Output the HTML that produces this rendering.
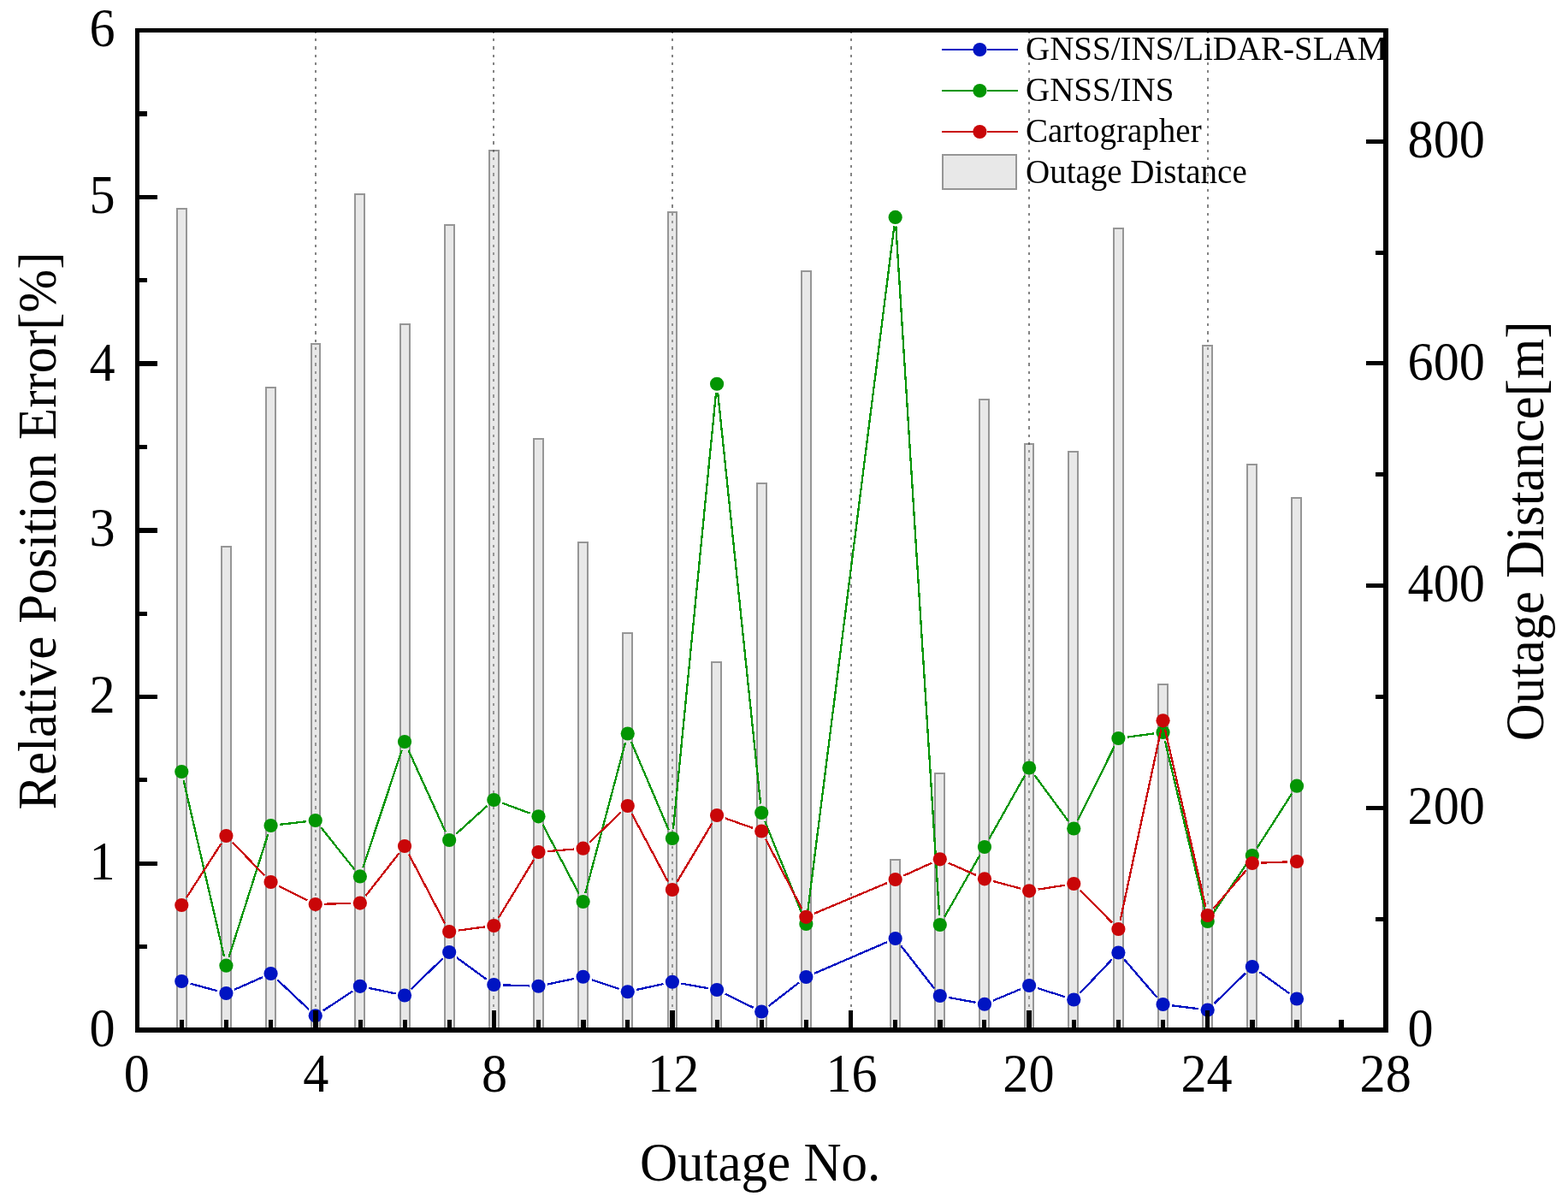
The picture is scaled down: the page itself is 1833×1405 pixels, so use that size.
<!DOCTYPE html>
<html lang="en"><head><meta charset="utf-8"><title>Relative Position Error vs Outage No.</title>
<style>html,body{margin:0;padding:0;background:#fff}body{width:1833px;height:1405px;overflow:hidden}svg{display:block}text{font-family:"Liberation Serif","DejaVu Serif",serif;fill:#000}</style>
</head><body>
<svg width="1833" height="1405" viewBox="0 0 1833 1405">
<rect x="0" y="0" width="1833" height="1405" fill="#fff"/>
<g shape-rendering="crispEdges" stroke="#848484" stroke-width="2" stroke-dasharray="3.25 6" fill="none">
<line x1="369" y1="35.75" x2="369" y2="1201"/>
<line x1="577" y1="35.75" x2="577" y2="1201"/>
<line x1="786" y1="35.75" x2="786" y2="1201"/>
<line x1="995" y1="35.75" x2="995" y2="1201"/>
<line x1="1203" y1="35.75" x2="1203" y2="1201"/>
<line x1="1412" y1="35.75" x2="1412" y2="1201"/>
</g>
<path shape-rendering="crispEdges" fill="#bcbcbc" fill-opacity="0.343" d="M208 245H217V1204H208ZM260 640H269V1204H260ZM312 454H321V1204H312ZM365 403H373V1204H365ZM416 228H425V1204H416ZM469 380H478V1204H469ZM521 264H530V1204H521ZM573 177H582V1204H573ZM625 514H634V1204H625ZM677 635H686V1204H677ZM729 741H738V1204H729ZM782 249H790V1204H782ZM833 775H842V1204H833ZM886 566H895V1204H886ZM938 318H947V1204H938ZM1042 1006H1051V1204H1042ZM1094 905H1103V1204H1094ZM1146 468H1155V1204H1146ZM1199 520H1207V1204H1199ZM1250 529H1259V1204H1250ZM1303 268H1312V1204H1303ZM1355 801H1364V1204H1355ZM1407 405H1416V1204H1407ZM1459 544H1468V1204H1459ZM1511 583H1520V1204H1511Z"/>
<path shape-rendering="crispEdges" fill="#4e4e4e" fill-opacity="0.594" fill-rule="evenodd" d="M206 243H219V1204H206ZM208 245H217V1204H208ZM258 638H271V1204H258ZM260 640H269V1204H260ZM310 452H323V1204H310ZM312 454H321V1204H312ZM363 401H375V1204H363ZM365 403H373V1204H365ZM414 226H427V1204H414ZM416 228H425V1204H416ZM467 378H480V1204H467ZM469 380H478V1204H469ZM519 262H532V1204H519ZM521 264H530V1204H521ZM571 175H584V1204H571ZM573 177H582V1204H573ZM623 512H636V1204H623ZM625 514H634V1204H625ZM675 633H688V1204H675ZM677 635H686V1204H677ZM727 739H740V1204H727ZM729 741H738V1204H729ZM780 247H792V1204H780ZM782 249H790V1204H782ZM831 773H844V1204H831ZM833 775H842V1204H833ZM884 564H897V1204H884ZM886 566H895V1204H886ZM936 316H949V1204H936ZM938 318H947V1204H938ZM1040 1004H1053V1204H1040ZM1042 1006H1051V1204H1042ZM1092 903H1105V1204H1092ZM1094 905H1103V1204H1094ZM1144 466H1157V1204H1144ZM1146 468H1155V1204H1146ZM1197 518H1209V1204H1197ZM1199 520H1207V1204H1199ZM1248 527H1261V1204H1248ZM1250 529H1259V1204H1250ZM1301 266H1314V1204H1301ZM1303 268H1312V1204H1303ZM1353 799H1366V1204H1353ZM1355 801H1364V1204H1355ZM1405 403H1418V1204H1405ZM1407 405H1416V1204H1407ZM1457 542H1470V1204H1457ZM1459 544H1468V1204H1459ZM1509 581H1522V1204H1509ZM1511 583H1520V1204H1511Z"/>
<g>
<path d="M1101 58 H1140 M1154 58 H1190" stroke="#0014c2" stroke-width="2" fill="none" shape-rendering="crispEdges"/>
<circle cx="1145.4" cy="58" r="8.1" fill="#0014c2"/>
<path d="M1101 106 H1140 M1154 106 H1190" stroke="#039503" stroke-width="2" fill="none" shape-rendering="crispEdges"/>
<circle cx="1145.4" cy="106" r="8.1" fill="#039503"/>
<path d="M1101 154 H1140 M1154 154 H1190" stroke="#c90608" stroke-width="2" fill="none" shape-rendering="crispEdges"/>
<circle cx="1145.4" cy="154" r="8.1" fill="#c90608"/>
<rect x="1102" y="181" width="86" height="40" fill="#e8e8e8" stroke="#969696" stroke-width="2" shape-rendering="crispEdges"/>
<clipPath id="lc"><rect x="1090" y="38" width="527" height="200"/></clipPath>
<g clip-path="url(#lc)">
<text transform="translate(1199 70.2) scale(1 1.05)" font-size="39">GNSS/INS/LiDAR-SLAM</text>
<text transform="translate(1199 118.2) scale(1 1.05)" font-size="39">GNSS/INS</text>
<text transform="translate(1199 166.2) scale(1 1.05)" font-size="39">Cartographer</text>
<text transform="translate(1199 213.7) scale(1 1.05)" font-size="39">Outage Distance</text>
</g></g>
<path d="M222.51 1149.75L254.19 1158.25M274.12 1156.72L306.87 1142.28M324.28 1145.28L361.02 1180.02M377.57 1181.46L412.03 1158.69M431.26 1154.97L462.63 1161.38M480.63 1156.13L517.55 1120.37M533.74 1119.24L568.75 1144.76M587.91 1151.36L618.87 1152.39M639.84 1150.56L671.24 1143.94M691.67 1145.12L723.72 1155.88M744.12 1156.97L775.56 1150.03M796.35 1149.6L827.63 1155.15M847.59 1161.66L880.69 1177.84M898.58 1176L933.99 1148.5M952.09 1137.8L1036.93 1101.2M1053.17 1105.36L1092.3 1155.64M1109.23 1165.95L1140.54 1171.8M1160.74 1169.67L1193.32 1156.08M1213.21 1155.2L1245.15 1165.3M1262.55 1160.81L1300.11 1121.19M1314.32 1121.53L1352.63 1165.97M1370.07 1175.31L1401.18 1179.19M1419.32 1173.13L1456.24 1137.37M1472.46 1136.19L1507.39 1161.31" stroke="#0014c2" stroke-width="2.3" fill="none" shape-rendering="crispEdges"/>
<g fill="#0014c2">
<circle cx="212.28" cy="1147" r="8.1"/>
<circle cx="264.42" cy="1161" r="8.1"/>
<circle cx="316.57" cy="1138" r="8.1"/>
<circle cx="368.72" cy="1187.3" r="8.1"/>
<circle cx="420.87" cy="1152.85" r="8.1"/>
<circle cx="473.02" cy="1163.5" r="8.1"/>
<circle cx="525.17" cy="1113" r="8.1"/>
<circle cx="577.32" cy="1151" r="8.1"/>
<circle cx="629.47" cy="1152.75" r="8.1"/>
<circle cx="681.62" cy="1141.75" r="8.1"/>
<circle cx="733.76" cy="1159.25" r="8.1"/>
<circle cx="785.91" cy="1147.75" r="8.1"/>
<circle cx="838.06" cy="1157" r="8.1"/>
<circle cx="890.21" cy="1182.5" r="8.1"/>
<circle cx="942.36" cy="1142" r="8.1"/>
<circle cx="1046.66" cy="1097" r="8.1"/>
<circle cx="1098.81" cy="1164" r="8.1"/>
<circle cx="1150.96" cy="1173.75" r="8.1"/>
<circle cx="1203.11" cy="1152" r="8.1"/>
<circle cx="1255.26" cy="1168.5" r="8.1"/>
<circle cx="1307.4" cy="1113.5" r="8.1"/>
<circle cx="1359.55" cy="1174" r="8.1"/>
<circle cx="1411.7" cy="1180.5" r="8.1"/>
<circle cx="1463.85" cy="1130" r="8.1"/>
<circle cx="1516" cy="1167.5" r="8.1"/>
</g>
<path d="M214.65 912.33L262.05 1118.37M267.64 1118.6L313.36 975.1M327.1 963.79L358.19 960.21M375.33 967.29L414.26 1016.11M424.2 1014.34L469.69 877.06M477.4 876.65L520.79 972.35M533.04 974.9L569.44 942.1M587.26 938.68L619.53 950.62M634.38 963.69L676.7 1044.61M684.34 1043.75L731.05 867.75M737.92 867.25L781.76 970.25M786.95 969.45L837.03 459.3M839.16 459.29L889.12 939.46M894.16 959.84L938.41 1070.16M943.69 1069.48L1045.33 264.42M1047.33 264.48L1098.14 1070.42M1104.08 1071.8L1145.69 999.2M1156.16 980.77L1197.9 906.73M1209.38 906.04L1248.98 959.96M1259.95 959L1302.71 872.5M1317.91 861.59L1349.05 857.41M1361.99 866.32L1409.27 1066.68M1417.65 1068.22L1457.91 1008.78M1469.57 991.08L1510.28 927.62" stroke="#039503" stroke-width="2.3" fill="none" shape-rendering="crispEdges"/>
<g fill="#039503">
<circle cx="212.28" cy="902" r="8.1"/>
<circle cx="264.42" cy="1128.7" r="8.1"/>
<circle cx="316.57" cy="965" r="8.1"/>
<circle cx="368.72" cy="959" r="8.1"/>
<circle cx="420.87" cy="1024.4" r="8.1"/>
<circle cx="473.02" cy="867" r="8.1"/>
<circle cx="525.17" cy="982" r="8.1"/>
<circle cx="577.32" cy="935" r="8.1"/>
<circle cx="629.47" cy="954.3" r="8.1"/>
<circle cx="681.62" cy="1054" r="8.1"/>
<circle cx="733.76" cy="857.5" r="8.1"/>
<circle cx="785.91" cy="980" r="8.1"/>
<circle cx="838.06" cy="448.75" r="8.1"/>
<circle cx="890.21" cy="950" r="8.1"/>
<circle cx="942.36" cy="1080" r="8.1"/>
<circle cx="1046.66" cy="253.9" r="8.1"/>
<circle cx="1098.81" cy="1081" r="8.1"/>
<circle cx="1150.96" cy="990" r="8.1"/>
<circle cx="1203.11" cy="897.5" r="8.1"/>
<circle cx="1255.26" cy="968.5" r="8.1"/>
<circle cx="1307.4" cy="863" r="8.1"/>
<circle cx="1359.55" cy="856" r="8.1"/>
<circle cx="1411.7" cy="1077" r="8.1"/>
<circle cx="1463.85" cy="1000" r="8.1"/>
<circle cx="1516" cy="918.7" r="8.1"/>
</g>
<path d="M218.01 1049.09L258.69 985.91M271.79 984.62L309.21 1023.38M326.06 1035.73L359.24 1052.27M379.32 1056.72L410.27 1055.88M427.41 1047.25L466.49 997.35M477.92 998.4L520.27 1079.6M535.67 1087.59L566.81 1083.41M582.81 1072.94L623.97 1005.06M640.03 995.13L671.05 992.57M689.29 984.39L726.09 949.31M738.74 951.36L780.93 1030.64M791.36 1030.91L832.61 962.09M848.05 956.54L880.22 967.96M895.1 980.9L937.47 1062.4M952.13 1067.7L1036.89 1032.1M1056.31 1023.61L1089.16 1008.69M1108.51 1008.58L1141.26 1023.02M1161.19 1030.05L1192.87 1038.55M1213.57 1039.63L1244.79 1034.67M1262.69 1040.56L1299.97 1078.44M1309.62 1075.63L1357.33 852.67M1361.92 852.63L1409.34 1059.67M1418.59 1061.94L1456.96 1017.06M1474.44 1008.59L1505.41 1007.41" stroke="#c90608" stroke-width="2.3" fill="none" shape-rendering="crispEdges"/>
<g fill="#c90608">
<circle cx="212.28" cy="1058" r="8.1"/>
<circle cx="264.42" cy="977" r="8.1"/>
<circle cx="316.57" cy="1031" r="8.1"/>
<circle cx="368.72" cy="1057" r="8.1"/>
<circle cx="420.87" cy="1055.6" r="8.1"/>
<circle cx="473.02" cy="989" r="8.1"/>
<circle cx="525.17" cy="1089" r="8.1"/>
<circle cx="577.32" cy="1082" r="8.1"/>
<circle cx="629.47" cy="996" r="8.1"/>
<circle cx="681.62" cy="991.7" r="8.1"/>
<circle cx="733.76" cy="942" r="8.1"/>
<circle cx="785.91" cy="1040" r="8.1"/>
<circle cx="838.06" cy="953" r="8.1"/>
<circle cx="890.21" cy="971.5" r="8.1"/>
<circle cx="942.36" cy="1071.8" r="8.1"/>
<circle cx="1046.66" cy="1028" r="8.1"/>
<circle cx="1098.81" cy="1004.3" r="8.1"/>
<circle cx="1150.96" cy="1027.3" r="8.1"/>
<circle cx="1203.11" cy="1041.3" r="8.1"/>
<circle cx="1255.26" cy="1033" r="8.1"/>
<circle cx="1307.4" cy="1086" r="8.1"/>
<circle cx="1359.55" cy="842.3" r="8.1"/>
<circle cx="1411.7" cy="1070" r="8.1"/>
<circle cx="1463.85" cy="1009" r="8.1"/>
<circle cx="1516" cy="1007" r="8.1"/>
</g>
<g shape-rendering="crispEdges" fill="#000">
<rect x="158" y="33" width="1465" height="5"/>
<rect x="158" y="1201" width="1465" height="6"/>
<rect x="158" y="33" width="5" height="1174"/>
<rect x="1617" y="33" width="6" height="1174"/>
<rect x="210" y="1192" width="5" height="10"/>
<rect x="262" y="1192" width="5" height="10"/>
<rect x="314" y="1192" width="5" height="10"/>
<rect x="366" y="1181" width="6" height="21"/>
<rect x="419" y="1192" width="5" height="10"/>
<rect x="471" y="1192" width="5" height="10"/>
<rect x="523" y="1192" width="5" height="10"/>
<rect x="575" y="1181" width="5" height="21"/>
<rect x="627" y="1192" width="5" height="10"/>
<rect x="679" y="1192" width="6" height="10"/>
<rect x="731" y="1192" width="5" height="10"/>
<rect x="783" y="1181" width="6" height="21"/>
<rect x="836" y="1192" width="5" height="10"/>
<rect x="888" y="1192" width="5" height="10"/>
<rect x="940" y="1192" width="5" height="10"/>
<rect x="992" y="1181" width="5" height="21"/>
<rect x="1044" y="1192" width="5" height="10"/>
<rect x="1096" y="1192" width="6" height="10"/>
<rect x="1148" y="1192" width="5" height="10"/>
<rect x="1200" y="1181" width="6" height="21"/>
<rect x="1253" y="1192" width="5" height="10"/>
<rect x="1305" y="1192" width="5" height="10"/>
<rect x="1357" y="1192" width="5" height="10"/>
<rect x="1409" y="1181" width="5" height="21"/>
<rect x="1461" y="1192" width="6" height="10"/>
<rect x="1513" y="1192" width="6" height="10"/>
<rect x="1565" y="1192" width="6" height="10"/>
<rect x="162" y="1104" width="10" height="5"/>
<rect x="162" y="1007" width="22" height="5"/>
<rect x="162" y="909" width="10" height="5"/>
<rect x="162" y="812" width="22" height="5"/>
<rect x="162" y="715" width="10" height="5"/>
<rect x="162" y="617" width="22" height="6"/>
<rect x="162" y="520" width="10" height="5"/>
<rect x="162" y="422" width="22" height="6"/>
<rect x="162" y="325" width="10" height="5"/>
<rect x="162" y="228" width="22" height="5"/>
<rect x="162" y="130" width="10" height="6"/>
<rect x="1608" y="1072" width="10" height="5"/>
<rect x="1597" y="942" width="21" height="5"/>
<rect x="1608" y="812" width="10" height="5"/>
<rect x="1597" y="682" width="21" height="5"/>
<rect x="1608" y="552" width="10" height="5"/>
<rect x="1597" y="422" width="21" height="5"/>
<rect x="1608" y="293" width="10" height="5"/>
<rect x="1597" y="163" width="21" height="5"/>
</g>
<g>
<text transform="translate(159.7 1275.7) scale(1 1.045)" font-size="60.2" text-anchor="middle">0</text>
<text transform="translate(369.2 1275.7) scale(1 1.045)" font-size="60.2" text-anchor="middle">4</text>
<text transform="translate(578 1275.7) scale(1 1.045)" font-size="60.2" text-anchor="middle">8</text>
<text transform="translate(787.2 1275.7) scale(1 1.045)" font-size="60.2" text-anchor="middle">12</text>
<text transform="translate(995.5 1275.7) scale(1 1.045)" font-size="60.2" text-anchor="middle">16</text>
<text transform="translate(1202.4 1275.7) scale(1 1.045)" font-size="60.2" text-anchor="middle">20</text>
<text transform="translate(1410.5 1275.7) scale(1 1.045)" font-size="60.2" text-anchor="middle">24</text>
<text transform="translate(1619.7 1275.7) scale(1 1.045)" font-size="60.2" text-anchor="middle">28</text>
<text transform="translate(134.5 1222.6) scale(1 1.045)" font-size="60.2" text-anchor="end">0</text>
<text transform="translate(134.5 1027.85) scale(1 1.045)" font-size="60.2" text-anchor="end">1</text>
<text transform="translate(134.5 833.1) scale(1 1.045)" font-size="60.2" text-anchor="end">2</text>
<text transform="translate(134.5 638.35) scale(1 1.045)" font-size="60.2" text-anchor="end">3</text>
<text transform="translate(134.5 444.6) scale(1 1.045)" font-size="60.2" text-anchor="end">4</text>
<text transform="translate(134.5 248.85) scale(1 1.045)" font-size="60.2" text-anchor="end">5</text>
<text transform="translate(134.5 54.1) scale(1 1.045)" font-size="60.2" text-anchor="end">6</text>
<text transform="translate(1645.6 1222.7) scale(1 1.045)" font-size="60.2">0</text>
<text transform="translate(1645.6 963.03) scale(1 1.045)" font-size="60.2">200</text>
<text transform="translate(1645.6 703.37) scale(1 1.045)" font-size="60.2">400</text>
<text transform="translate(1645.6 443.7) scale(1 1.045)" font-size="60.2">600</text>
<text transform="translate(1645.6 184.03) scale(1 1.045)" font-size="60.2">800</text>
</g>
<g>
<text transform="translate(888.6 1379.5) scale(1.004 1.04)" font-size="60.8" text-anchor="middle">Outage No.</text>
<text transform="translate(64.9 620.5) rotate(-90) scale(1.0005 1.04)" font-size="60.8" text-anchor="middle">Relative Position Error[%]</text>
<text transform="translate(1804.2 620.9) rotate(-90) scale(0.9995 1.04)" font-size="60.8" text-anchor="middle">Outage Distance[m]</text>
</g>
</svg></body></html>
